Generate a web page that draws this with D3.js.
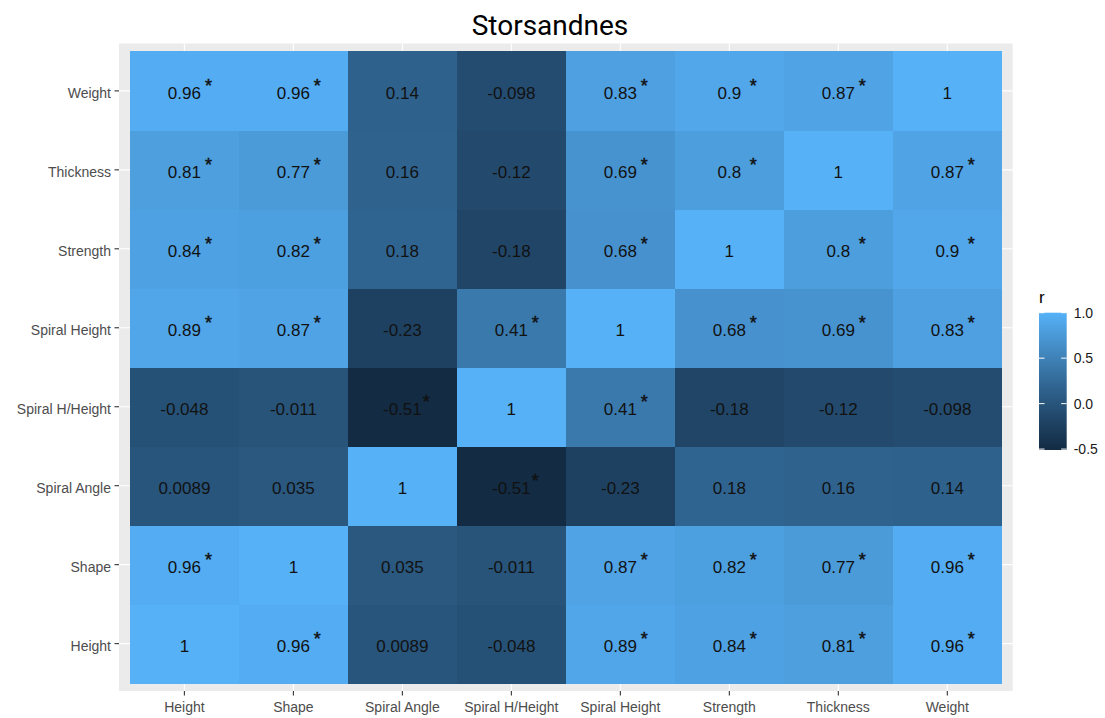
<!DOCTYPE html>
<html>
<head>
<meta charset="utf-8">
<script src="https://cdn.jsdelivr.net/npm/d3@7"></script>
<style>
  html, body { margin: 0; padding: 0; background: #ffffff; }
  svg { display: block; }
</style>
</head>
<body>
<svg id="chart" width="1105" height="718"></svg>
<script>
// Variables of the correlation matrix (x order left→right, y order bottom→top)
const variables = ["Height", "Shape", "Spiral Angle", "Spiral H/Height",
                   "Spiral Height", "Strength", "Thickness", "Weight"];

// Pearson r of each variable against the variables above, in the same order
const rHeight        = [1, 0.96, 0.0089, -0.048, 0.89, 0.84, 0.81, 0.96];
const rShape         = [0.96, 1, 0.035, -0.011, 0.87, 0.82, 0.77, 0.96];
const rSpiralAngle   = [0.0089, 0.035, 1, -0.51, -0.23, 0.18, 0.16, 0.14];
const rSpiralHHeight = [-0.048, -0.011, -0.51, 1, 0.41, -0.18, -0.12, -0.098];
const rSpiralHeight  = [0.89, 0.87, -0.23, 0.41, 1, 0.68, 0.69, 0.83];
const rStrength      = [0.84, 0.82, 0.18, -0.18, 0.68, 1, 0.8, 0.9];
const rThickness     = [0.81, 0.77, 0.16, -0.12, 0.69, 0.8, 1, 0.87];
const rWeight        = [0.96, 0.96, 0.14, -0.098, 0.83, 0.9, 0.87, 1];

// 1 where the correlation is significant (p < 0.05)
const sigHeight        = [0, 1, 0, 0, 1, 1, 1, 1];
const sigShape         = [1, 0, 0, 0, 1, 1, 1, 1];
const sigSpiralAngle   = [0, 0, 0, 1, 0, 0, 0, 0];
const sigSpiralHHeight = [0, 0, 1, 0, 1, 0, 0, 0];
const sigSpiralHeight  = [1, 1, 0, 1, 0, 1, 1, 1];
const sigStrength      = [1, 1, 0, 0, 1, 0, 1, 1];
const sigThickness     = [1, 1, 0, 0, 1, 1, 0, 1];
const sigWeight        = [1, 1, 0, 0, 1, 1, 1, 0];

const legendTicks = [1.0, 0.5, 0.0, -0.5];
const legendTickLabels = ["1.0", "0.5", "0.0", "-0.5"];
const chartTitle = "Storsandnes";

const rRows = [rHeight, rShape, rSpiralAngle, rSpiralHHeight,
               rSpiralHeight, rStrength, rThickness, rWeight];
const sigRows = [sigHeight, sigShape, sigSpiralAngle, sigSpiralHHeight,
                 sigSpiralHeight, sigStrength, sigThickness, sigWeight];

// Long-format cells: x variable, y variable, r, significance
const cells = [];
rRows.forEach((row, i) => {
  row.forEach((r, j) => {
    cells.push({ x: variables[j], y: variables[i], r: r, sig: sigRows[i][j] === 1 });
  });
});

// Layout
const panel = { left: 119, right: 1012.7, top: 43.5, bottom: 691 };
const svg = d3.select("#chart");

const x = d3.scaleBand().domain(variables)
  .range([panel.left, panel.right]).paddingInner(0).paddingOuter(0.1);
const y = d3.scaleBand().domain(variables.slice().reverse())
  .range([panel.top, panel.bottom]).paddingInner(0).paddingOuter(0.1);

const rExtent = d3.extent(cells, d => d.r);
const fill = d3.scaleLinear().domain(rExtent)
  .range(["#132B43", "#56B1F7"]).interpolate(d3.interpolateLab);

// Panel background
svg.append("rect")
  .attr("x", panel.left).attr("y", panel.top)
  .attr("width", panel.right - panel.left).attr("height", panel.bottom - panel.top)
  .attr("fill", "#EBEBEB");

// Major grid lines
const grid = svg.append("g").attr("stroke", "#ffffff").attr("stroke-width", 1.1);
variables.forEach(v => {
  const cx = x(v) + x.bandwidth() / 2;
  grid.append("line").attr("x1", cx).attr("x2", cx)
    .attr("y1", panel.top).attr("y2", panel.bottom);
  const cy = y(v) + y.bandwidth() / 2;
  grid.append("line").attr("y1", cy).attr("y2", cy)
    .attr("x1", panel.left).attr("x2", panel.right);
});

// Tiles
svg.append("g").attr("shape-rendering", "crispEdges")
  .selectAll("rect").data(cells).join("rect")
  .attr("x", d => x(d.x)).attr("y", d => y(d.y))
  .attr("width", x.bandwidth() + 0.5).attr("height", y.bandwidth() + 0.5)
  .attr("fill", d => fill(d.r));

// Cell labels
const labelFont = "'Liberation Sans', Arial, sans-serif";
const labels = svg.append("g")
  .attr("font-family", labelFont).attr("font-size", 17).attr("fill", "#111111");
labels.selectAll("text.val").data(cells).join("text")
  .attr("class", "val")
  .attr("x", d => x(d.x) + x.bandwidth() / 2)
  .attr("y", d => y(d.y) + y.bandwidth() / 2 + 8.5)
  .attr("text-anchor", "middle")
  .text(d => String(d.r));

// Significance markers
labels.selectAll("text.sig").data(cells.filter(d => d.sig)).join("text")
  .attr("class", "sig")
  .attr("x", d => x(d.x) + x.bandwidth() / 2 + 24)
  .attr("y", d => y(d.y) + y.bandwidth() / 2 + 1)
  .attr("text-anchor", "middle")
  .attr("font-size", 18)
  .attr("stroke", "#111111").attr("stroke-width", 0.5)
  .text("*");

// Axes
const axisFont = "'Liberation Sans', Arial, sans-serif";
const xAxis = svg.append("g")
  .attr("transform", `translate(0,${panel.bottom})`)
  .call(d3.axisBottom(x).tickSize(4.5).tickPadding(4));
const yAxis = svg.append("g")
  .attr("transform", `translate(${panel.left},0)`)
  .call(d3.axisLeft(y).tickSize(4.5).tickPadding(3.5));
[xAxis, yAxis].forEach(ax => {
  ax.select(".domain").remove();
  ax.selectAll(".tick line").attr("stroke", "#333333").attr("stroke-width", 1.1);
  ax.selectAll(".tick text").attr("fill", "#4D4D4D")
    .attr("font-family", axisFont).attr("font-size", 14);
});
xAxis.selectAll(".tick text").attr("dy", null).attr("y", 21);
yAxis.selectAll(".tick text").attr("dy", "0.5em");

// Title
svg.append("text")
  .attr("x", 550).attr("y", 35)
  .attr("text-anchor", "middle")
  .attr("font-family", "Roboto, 'Liberation Sans', sans-serif")
  .attr("font-size", 28).attr("fill", "#000000")
  .text(chartTitle);

// Colour bar legend
const legend = { x: 1039, y: 312.7, w: 27.7, h: 137.3 };
const ly = d3.scaleLinear().domain(rExtent).range([legend.y + legend.h, legend.y]);

const defs = svg.append("defs");
const grad = defs.append("linearGradient").attr("id", "rGradient")
  .attr("x1", 0).attr("y1", 1).attr("x2", 0).attr("y2", 0);
d3.range(0, 21).forEach(i => {
  const t = i / 20;
  const v = rExtent[0] + t * (rExtent[1] - rExtent[0]);
  grad.append("stop").attr("offset", t).attr("stop-color", fill(v));
});

svg.append("text")
  .attr("x", legend.x).attr("y", 303)
  .attr("font-family", labelFont).attr("font-size", 17).attr("fill", "#000000")
  .text("r");

svg.append("rect")
  .attr("x", legend.x).attr("y", legend.y)
  .attr("width", legend.w).attr("height", legend.h)
  .attr("fill", "url(#rGradient)");

const tickLen = legend.w / 5;
const lt = svg.append("g");
legendTicks.forEach((v, i) => {
  const yy = ly(v);
  lt.append("line").attr("x1", legend.x).attr("x2", legend.x + tickLen)
    .attr("y1", yy).attr("y2", yy).attr("stroke", "#ffffff").attr("stroke-width", 1);
  lt.append("line").attr("x1", legend.x + legend.w - tickLen).attr("x2", legend.x + legend.w)
    .attr("y1", yy).attr("y2", yy).attr("stroke", "#ffffff").attr("stroke-width", 1);
  lt.append("text")
    .attr("x", legend.x + legend.w + 7).attr("y", yy + 5)
    .attr("font-family", labelFont).attr("font-size", 14).attr("fill", "#1A1A1A")
    .text(legendTickLabels[i]);
});
</script>
</body>
</html>
